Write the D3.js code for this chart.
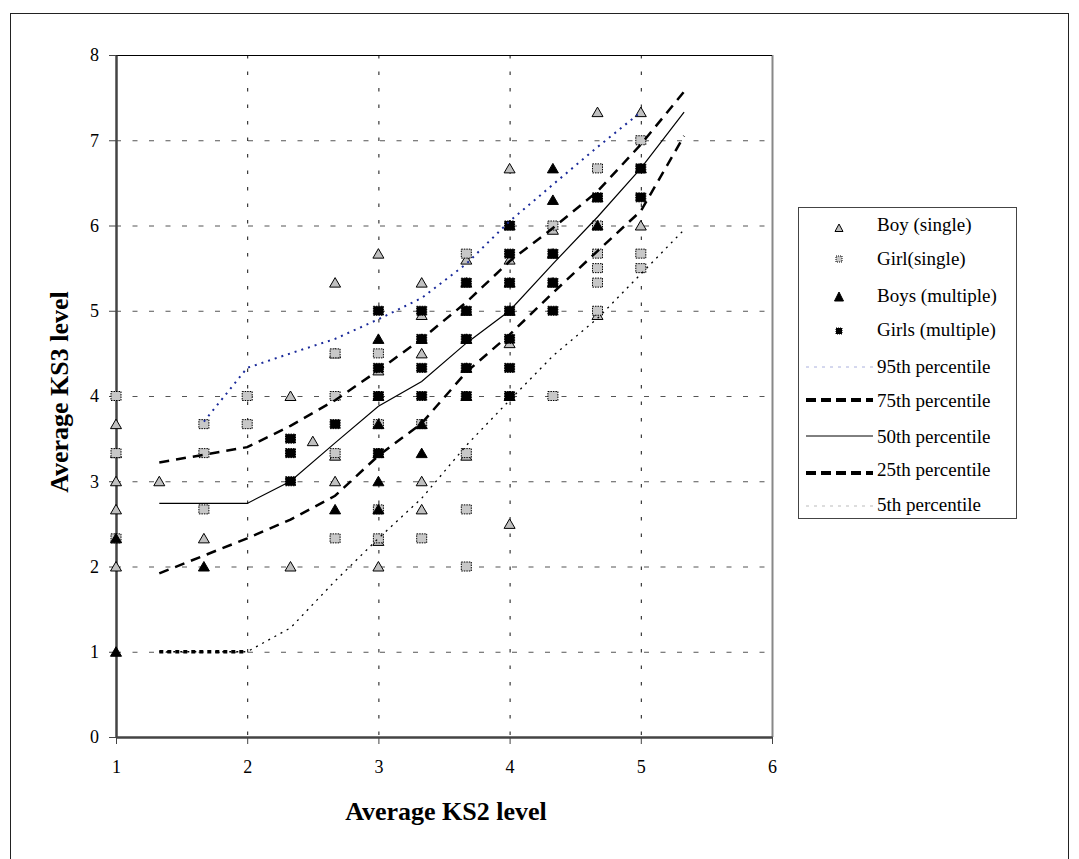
<!DOCTYPE html>
<html>
<head>
<meta charset="utf-8">
<script src="https://cdn.jsdelivr.net/npm/d3@7"></script>
<style>
  body { margin: 0; background: #fff; }
  text { font-family: "Liberation Serif", "Times New Roman", serif; fill: #000; }
</style>
</head>
<body>
<div id="chart"></div>
<script>
// KS2 -> KS3 scatter, with percentile bands.
var boySingleX = [1, 1, 1, 1, 1, 1.33, 1.67, 2.33, 2.33, 2.5, 2.67, 2.67, 2.67, 2.67,
	3, 3, 3, 3, 3.33, 3.33, 3.33, 3.33, 3.33, 3.67, 3.67, 4, 4, 4, 4, 4.33, 4.67, 4.67, 5, 5];
var boySingleY = [3.67, 3.33, 3, 2.67, 2, 3, 2.33, 4, 2, 3.47, 5.33, 4.5, 3.3, 3,
	5.67, 4.3, 2.3, 2, 5.33, 4.95, 4.5, 3, 2.67, 5.6, 3.3, 6.67, 5.6, 4.62, 2.5, 5.95, 7.33, 4.95, 7.33, 6];

var girlSingleX = [1, 1, 1, 1.67, 1.67, 1.67, 2, 2, 2.67, 2.67, 2.67, 2.67, 3, 3, 3, 3,
	3.33, 3.33, 3.67, 3.67, 3.67, 3.67, 4.33, 4.33, 4.67, 4.67, 4.67, 4.67, 4.67, 4.67, 5, 5, 5];
var girlSingleY = [4, 3.33, 2.33, 3.67, 3.33, 2.67, 4, 3.67, 4.5, 4, 3.33, 2.33, 4.5, 3.67, 2.67, 2.33,
	3.67, 2.33, 5.67, 3.33, 2.67, 2, 6, 4, 6.67, 6, 5.67, 5.5, 5.33, 5, 7, 5.67, 5.5];

var boysMultX = [1, 1, 1.67, 2.67, 3, 3, 3, 3, 3, 3, 3.33, 3.33, 3.33, 3.67, 3.67, 3.67, 3.67, 3.67,
	4, 4, 4, 4, 4.33, 4.33, 4.33, 4.33, 4.67, 4.67, 5];
var boysMultY = [2.33, 1, 2, 2.67, 4.67, 4, 3.67, 3.33, 3, 2.67, 4.67, 3.67, 3.33, 5.33, 5, 4.67, 4.33, 4,
	6, 5.33, 5, 4, 6.67, 6.3, 5.67, 5.33, 6.33, 6, 6.67];

var girlsMultX = [2.33, 2.33, 2.33, 2.67, 3, 3, 3, 3, 3.33, 3.33, 3.33, 3.33, 3.67, 3.67, 3.67, 3.67, 3.67,
	4, 4, 4, 4, 4, 4, 4, 4.33, 4.33, 4.33, 4.67, 5, 5];
var girlsMultY = [3.5, 3.33, 3, 3.67, 5, 4.33, 4, 3.33, 5, 4.67, 4.33, 4, 5.33, 5, 4.67, 4.33, 4,
	6, 5.67, 5.33, 5, 4.67, 4.33, 4, 5.67, 5.33, 5, 6.33, 6.67, 6.33];

// percentile curves
var p95X = [1.67, 2, 2.33, 2.67, 3, 3.33, 3.67, 4, 4.33, 4.67, 5];
var p95Y = [3.7, 4.33, 4.5, 4.67, 4.9, 5.15, 5.55, 6.05, 6.48, 6.92, 7.33];
var p75X = [1.33, 2, 2.33, 2.67, 3, 3.33, 3.67, 4, 4.33, 4.67, 5, 5.33];
var p75Y = [3.22, 3.4, 3.65, 3.95, 4.3, 4.67, 5.1, 5.58, 5.97, 6.4, 6.95, 7.57];
var p50X = [1.33, 2, 2.33, 2.67, 3, 3.33, 3.67, 4, 4.33, 4.67, 5, 5.33];
var p50Y = [2.74, 2.74, 3, 3.45, 3.88, 4.17, 4.62, 5, 5.55, 6.1, 6.67, 7.33];
var p25X = [1.33, 2, 2.33, 2.67, 3, 3.33, 3.67, 4, 4.33, 4.67, 5, 5.33];
var p25Y = [1.92, 2.33, 2.55, 2.83, 3.3, 3.68, 4.28, 4.72, 5.21, 5.7, 6.17, 7.05];
var p5X = [1.33, 1.67, 2, 2.33, 2.67, 3, 3.33, 3.67, 4, 4.33, 4.67, 5, 5.33];
var p5Y = [1, 1, 1, 1.28, 1.83, 2.33, 2.8, 3.42, 3.95, 4.47, 4.91, 5.43, 5.95];

var xTicks = [1, 2, 3, 4, 5, 6];
var yTicks = [0, 1, 2, 3, 4, 5, 6, 7, 8];

var legendNames = ["Boy (single)", "Girl(single)", "Boys (multiple)", "Girls (multiple)",
	"95th percentile", "75th percentile", "50th percentile", "25th percentile", "5th percentile"];

var W = 1079, H = 859;
var svg = d3.select("#chart").append("svg").attr("width", W).attr("height", H);

var x = d3.scaleLinear().domain([1, 6]).range([116, 772]);
var y = d3.scaleLinear().domain([0, 8]).range([737, 55]);

// outer frame
svg.append("rect").attr("x", 10.5).attr("y", 13.5).attr("width", 1058).attr("height", 870)
	.attr("fill", "none").attr("stroke", "#222").attr("stroke-width", 1);

// grid
svg.selectAll(".hgrid").data(yTicks.filter(function(d){ return d > 0 && d < 8; }))
	.enter().append("line")
	.attr("x1", x(1)).attr("x2", x(6))
	.attr("y1", function(d){ return y(d) + 0.5; }).attr("y2", function(d){ return y(d) + 0.5; })
	.attr("stroke", "#555").attr("stroke-width", 1).attr("stroke-dasharray", "5,11.5");
svg.selectAll(".vgrid").data(xTicks.filter(function(d){ return d > 1; }))
	.enter().append("line")
	.attr("y1", y(8)).attr("y2", y(0))
	.attr("x1", function(d){ return x(d) + 0.5; }).attr("x2", function(d){ return x(d) + 0.5; })
	.attr("stroke", function(d){ return d == 6 ? "#888" : "#111"; })
	.attr("stroke-width", function(d){ return d == 6 ? 2 : 1; })
	.attr("stroke-dasharray", function(d){ return d == 6 ? null : "3.5,13"; });
// top frame of plot area
svg.append("line").attr("x1", x(1)).attr("x2", x(6)).attr("y1", y(8) + 0.5).attr("y2", y(8) + 0.5)
	.attr("stroke", "#000").attr("stroke-width", 1);

// axes
var yAxis = svg.append("g").attr("transform", "translate(" + x(1) + ",0)")
	.call(d3.axisLeft(y).tickValues(yTicks).tickFormat(d3.format("d")).tickSize(7).tickSizeOuter(0).tickPadding(10));
var xAxis = svg.append("g").attr("transform", "translate(0," + y(0) + ")")
	.call(d3.axisBottom(x).tickValues(xTicks).tickFormat(d3.format("d")).tickSize(7).tickSizeOuter(0).tickPadding(16));
[yAxis, xAxis].forEach(function(a){
	a.select(".domain").attr("stroke", "#444").attr("stroke-width", 2.5);
	a.selectAll(".tick line").attr("stroke", "#444").attr("stroke-width", 1);
	a.selectAll(".tick text").attr("font-family", "Liberation Serif").attr("font-size", 18).attr("fill", "#000");
});

// axis titles
svg.append("text").attr("x", 446).attr("y", 820).attr("text-anchor", "middle")
	.attr("font-size", 26).attr("font-weight", "bold").text("Average KS2 level");
svg.append("text").attr("transform", "translate(68,392) rotate(-90)").attr("text-anchor", "middle")
	.attr("font-size", 26).attr("font-weight", "bold").text("Average KS3 level");

// markers
var tri = "M0,-5L5.5,4.5L-5.5,4.5Z";
function pts(xs, ys){ return xs.map(function(v, i){ return [v, ys[i]]; }); }
function drawTri(data, fill){
	svg.append("g").selectAll("path").data(data).enter().append("path")
		.attr("d", tri)
		.attr("transform", function(d){ return "translate(" + x(d[0]) + "," + y(d[1]) + ")"; })
		.attr("fill", fill).attr("stroke", "#000").attr("stroke-width", 1);
}
function drawSq(data, fill){
	svg.append("g").selectAll("rect").data(data).enter().append("rect")
		.attr("x", function(d){ return x(d[0]) - 5; })
		.attr("y", function(d){ return y(d[1]) - 4.5; })
		.attr("width", 10).attr("height", 9)
		.attr("fill", fill).attr("stroke", "#000").attr("stroke-width", 1).attr("stroke-dasharray", "1.5,1");
}
drawTri(pts(boySingleX, boySingleY), "#c0c0c0");
drawSq(pts(girlSingleX, girlSingleY), "#c8c8c8");
drawTri(pts(boysMultX, boysMultY), "#000");
drawSq(pts(girlsMultX, girlsMultY), "#000");

// percentile lines
var line = d3.line().x(function(d){ return x(d[0]); }).y(function(d){ return y(d[1]); });
var styles = [
	{ xs: p95X, ys: p95Y, color: "#1a2a9a", width: 2, dash: "2,5" },
	{ xs: p75X, ys: p75Y, color: "#000", width: 2.5, dash: "10,7" },
	{ xs: p50X, ys: p50Y, color: "#000", width: 1.2, dash: null },
	{ xs: p25X, ys: p25Y, color: "#000", width: 2.5, dash: "10,7" },
	{ xs: p5X, ys: p5Y, color: "#000", width: 1.3, dash: "2,5" }
];
styles.forEach(function(s){
	svg.append("path").datum(pts(s.xs, s.ys)).attr("d", line)
		.attr("fill", "none").attr("stroke", s.color).attr("stroke-width", s.width)
		.attr("stroke-dasharray", s.dash);
});
// the flat start of the 5th percentile shows as a heavy dotted run
svg.append("path").datum(pts(p5X.slice(0, 3), p5Y.slice(0, 3))).attr("d", line)
	.attr("fill", "none").attr("stroke", "#000").attr("stroke-width", 3.5).attr("stroke-dasharray", "4,4");

// legend
var lg = svg.append("g");
lg.append("rect").attr("x", 798.5).attr("y", 207.5).attr("width", 218).attr("height", 311)
	.attr("fill", "#fff").attr("stroke", "#444").attr("stroke-width", 1);
var rowY = [224, 258, 295, 329, 366, 400, 436, 469, 504];
legendNames.forEach(function(name, i){
	lg.append("text").attr("x", 877).attr("y", rowY[i]).attr("dy", "0.35em")
		.attr("font-size", 19).text(name);
});
lg.append("path").attr("d", "M0,-4L4,3.5L-4,3.5Z").attr("transform", "translate(839,228)")
	.attr("fill", "#c0c0c0").attr("stroke", "#000");
lg.append("rect").attr("x", 836).attr("y", 256).attr("width", 6).attr("height", 6)
	.attr("fill", "#c8c8c8").attr("stroke", "#000").attr("stroke-dasharray", "1,1");
lg.append("path").attr("d", "M0,-5L4.5,4L-4.5,4Z").attr("transform", "translate(839,297)")
	.attr("fill", "#000").attr("stroke", "#000");
lg.append("rect").attr("x", 836).attr("y", 328).attr("width", 6).attr("height", 6)
	.attr("fill", "#000").attr("stroke", "#000").attr("stroke-dasharray", "1,1");
var legLines = [
	{ y: 367, color: "#aab0dd", width: 1, dash: "3,5" },
	{ y: 400, color: "#000", width: 4, dash: "10,5" },
	{ y: 436, color: "#000", width: 1, dash: null },
	{ y: 473, color: "#000", width: 4, dash: "10,5" },
	{ y: 506, color: "#bbb", width: 1, dash: "3,5" }
];
legLines.forEach(function(l){
	lg.append("line").attr("x1", 806).attr("x2", 873).attr("y1", l.y).attr("y2", l.y)
		.attr("stroke", l.color).attr("stroke-width", l.width).attr("stroke-dasharray", l.dash);
});
</script>
</body>
</html>
